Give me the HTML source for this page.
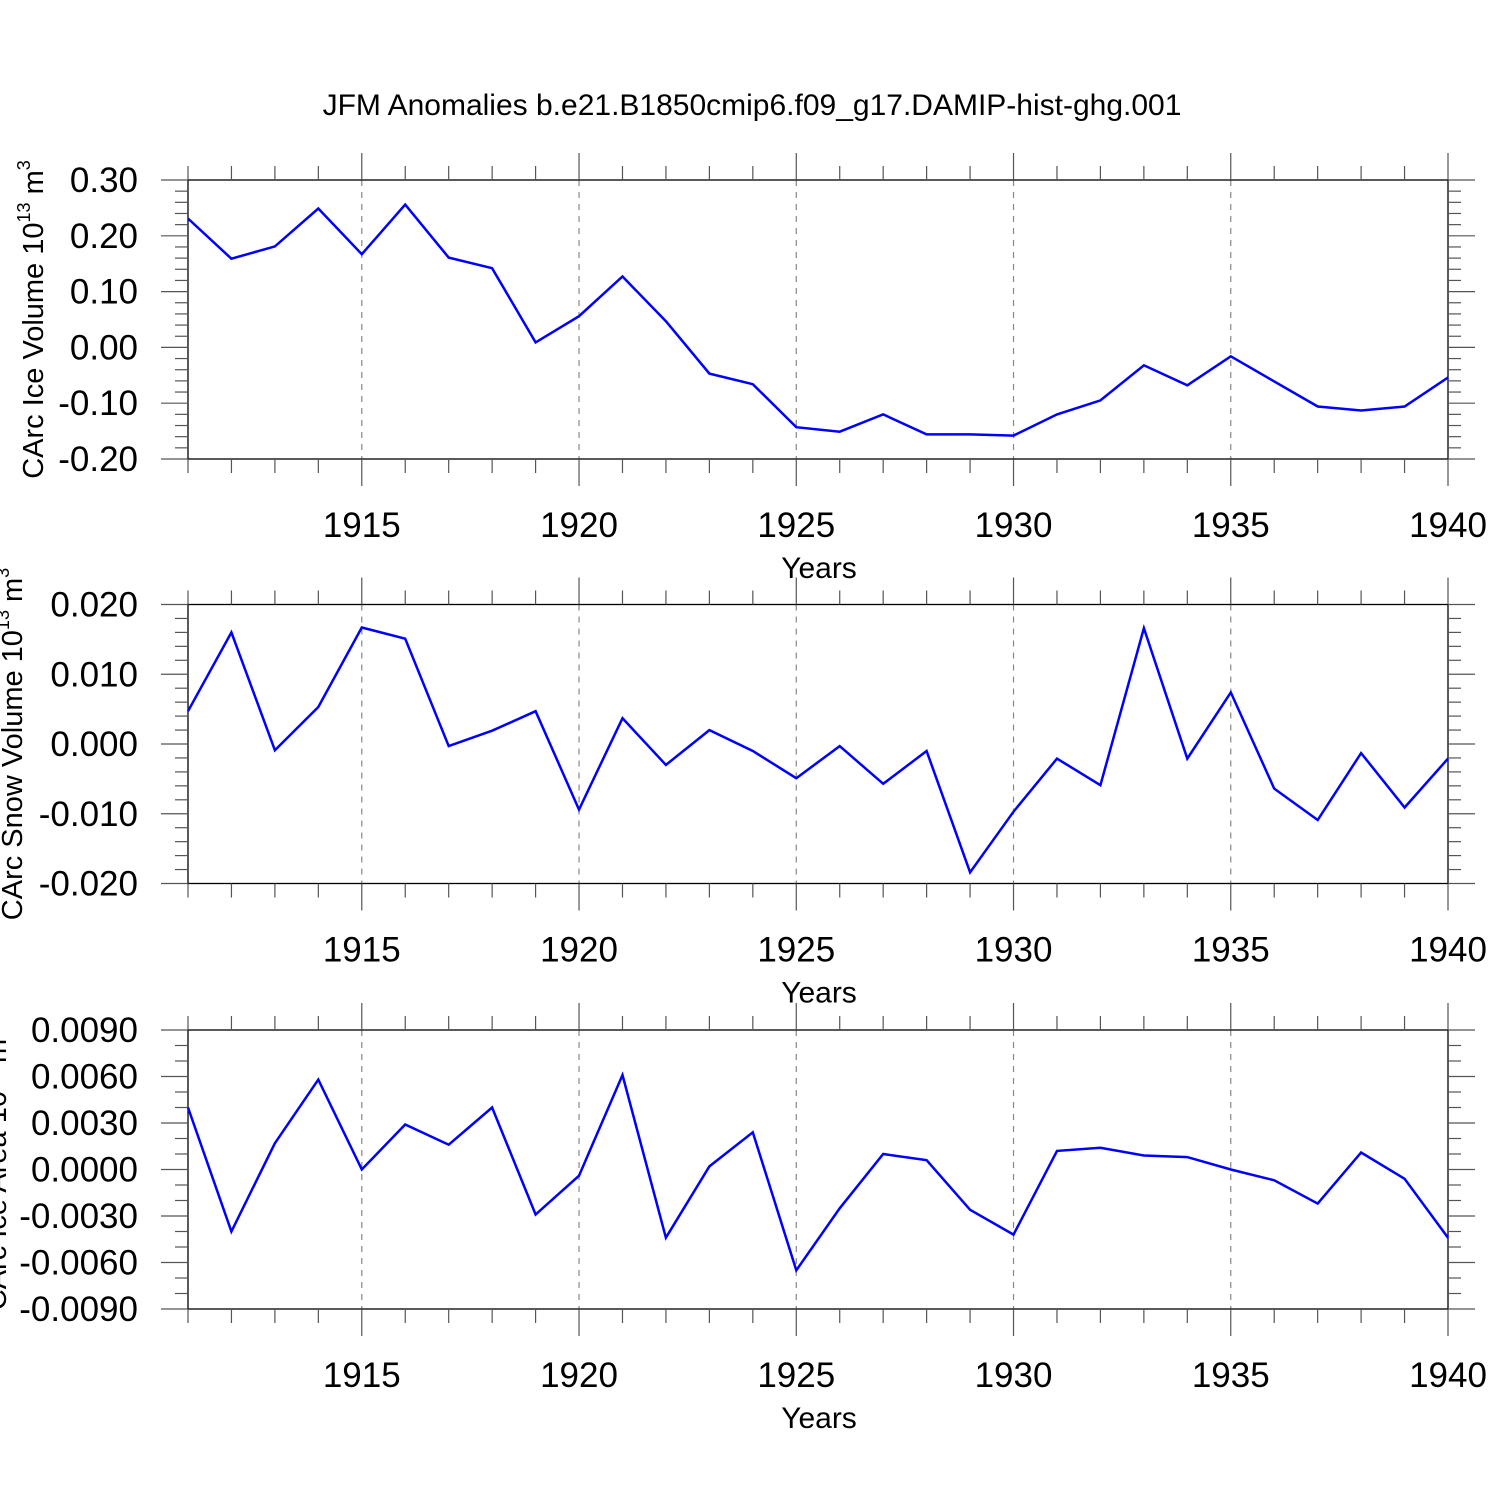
<!DOCTYPE html>
<html><head><meta charset="utf-8"><style>
html,body{margin:0;padding:0;background:#fff}
svg{display:block;font-family:"Liberation Sans",sans-serif}
</style></head><body>
<svg id="chart" width="1500" height="1500" viewBox="0 0 1500 1500" xmlns="http://www.w3.org/2000/svg">
<text x="752" y="115" font-size="30" text-anchor="middle">JFM Anomalies b.e21.B1850cmip6.f09_g17.DAMIP-hist-ghg.001</text>
</svg>
<script>
const years = [1911,1912,1913,1914,1915,1916,1917,1918,1919,1920,1921,1922,1923,1924,1925,1926,1927,1928,1929,1930,1931,1932,1933,1934,1935,1936,1937,1938,1939,1940];
const iceVolume = [0.231,0.159,0.181,0.249,0.167,0.256,0.161,0.142,0.009,0.056,0.127,0.047,-0.047,-0.066,-0.143,-0.151,-0.120,-0.156,-0.156,-0.158,-0.120,-0.095,-0.032,-0.068,-0.016,-0.061,-0.106,-0.113,-0.106,-0.054];
const snowVolume = [0.0047,0.0160,-0.0009,0.0053,0.0167,0.0151,-0.0003,0.0019,0.0047,-0.0094,0.0037,-0.0030,0.0020,-0.0010,-0.0049,-0.0003,-0.0057,-0.0010,-0.0184,-0.0097,-0.0021,-0.0059,0.0166,-0.0021,0.0074,-0.0064,-0.0109,-0.0013,-0.0091,-0.0021];
const iceArea = [0.0040,-0.0040,0.0017,0.0058,0.0000,0.0029,0.0016,0.0040,-0.0029,-0.0004,0.0061,-0.0044,0.0002,0.0024,-0.0065,-0.0025,0.0010,0.0006,-0.0026,-0.0042,0.0012,0.0014,0.0009,0.0008,0.0000,-0.0007,-0.0022,0.0011,-0.0006,-0.0044];
const xTickLabels = [1915,1920,1925,1930,1935,1940];
const ticks1 = ["0.30","0.20","0.10","0.00","-0.10","-0.20"];
const ticks2 = ["0.020","0.010","0.000","-0.010","-0.020"];
const ticks3 = ["0.0090","0.0060","0.0030","0.0000","-0.0030","-0.0060","-0.0090"];

const NS="http://www.w3.org/2000/svg";
const svg=document.getElementById('chart');
function mk(tag,attrs,parent){const e=document.createElementNS(NS,tag);for(const k in attrs)e.setAttribute(k,attrs[k]);(parent||svg).appendChild(e);return e;}
const X0=188,X1=1448;
function xs(yr){return X0+(yr-1911)/(1940-1911)*(X1-X0);}

function panel(cfg){
  const g=mk('g',{});
  
  
  const T=cfg.top,B=cfg.top+279;
  const ys=v=>T+(cfg.max-v)/(cfg.max-cfg.min)*(B-T);
  xTickLabels.slice(0,5).forEach(yr=>{
    const l=mk('line',{x1:xs(yr),x2:xs(yr),y1:T,y2:B,stroke:'#888','stroke-width':1.2,'stroke-dasharray':'6,6'},g);
    
    
  });
  const fr=mk('rect',{x:X0,y:T,width:X1-X0,height:B-T,fill:'none',stroke:'#000','stroke-width':1.3},g);
  
  
  years.forEach(yr=>{
    const maj=(yr%5===0);const len=maj?27:14;
    mk('line',{x1:xs(yr),x2:xs(yr),y1:T-len,y2:T,stroke:'#555','stroke-width':1.2},g);
    mk('line',{x1:xs(yr),x2:xs(yr),y1:B,y2:B+len,stroke:'#555','stroke-width':1.2},g);
  });
  xTickLabels.forEach(yr=>{
    const t=mk('text',{x:xs(yr),y:B+78,'font-size':35,'text-anchor':'middle'},g);
    t.textContent=yr;
    
    
  });
  const xt=mk('text',{x:819,y:B+119,'font-size':30,'text-anchor':'middle'},g);
  xt.textContent='Years';
  
  
  const n=Math.round((cfg.max-cfg.min)/cfg.minor);
  for(let i=0;i<=n;i++){
    const v=cfg.max-i*cfg.minor;const y=ys(v);
    const maj=(i%cfg.per===0);const len=maj?27:13;
    mk('line',{x1:X0-len,x2:X0,y1:y,y2:y,stroke:'#555','stroke-width':1.2},g);
    mk('line',{x1:X1,x2:X1+len,y1:y,y2:y,stroke:'#555','stroke-width':1.2},g);
  }
  cfg.labels.forEach((lab,i)=>{
    const v=cfg.max-i*cfg.minor*cfg.per;
    const t=mk('text',{x:138,y:ys(v)+12,'font-size':35,'text-anchor':'end'},g);
    t.textContent=lab;
    
    
  });
  const yt=mk('text',{x:0,y:0,'font-size':29,'text-anchor':'middle',transform:`translate(${cfg.ylx},${(T+B)/2}) rotate(-90)`},g);
  yt.innerHTML=cfg.ytitle+' 10<tspan dy="-13" font-size="18">13</tspan><tspan dy="13"> m</tspan><tspan dy="-13" font-size="18">'+cfg.unit+'</tspan>';
  
  
  const pts=cfg.data.map((v,i)=>xs(years[i]).toFixed(1)+','+ys(v).toFixed(1)).join(' ');
  const pl=mk('polyline',{points:pts,fill:'none',stroke:'#0000ff','stroke-width':2.5,'stroke-linejoin':'miter'},g);
  
  
}
panel({name:'ice-volume-panel',top:180,max:0.30,min:-0.20,minor:0.02,per:5,labels:ticks1,data:iceVolume,ytitle:'CArc Ice Volume',unit:'3',ylx:43});
panel({name:'snow-volume-panel',top:604.5,max:0.020,min:-0.020,minor:0.002,per:5,labels:ticks2,data:snowVolume,ytitle:'CArc Snow Volume',unit:'3',ylx:22});
panel({name:'ice-area-panel',top:1030,max:0.009,min:-0.009,minor:0.001,per:3,labels:ticks3,data:iceArea,ytitle:'CArc Ice Area',unit:'2',ylx:6});
</script>
</body></html>
